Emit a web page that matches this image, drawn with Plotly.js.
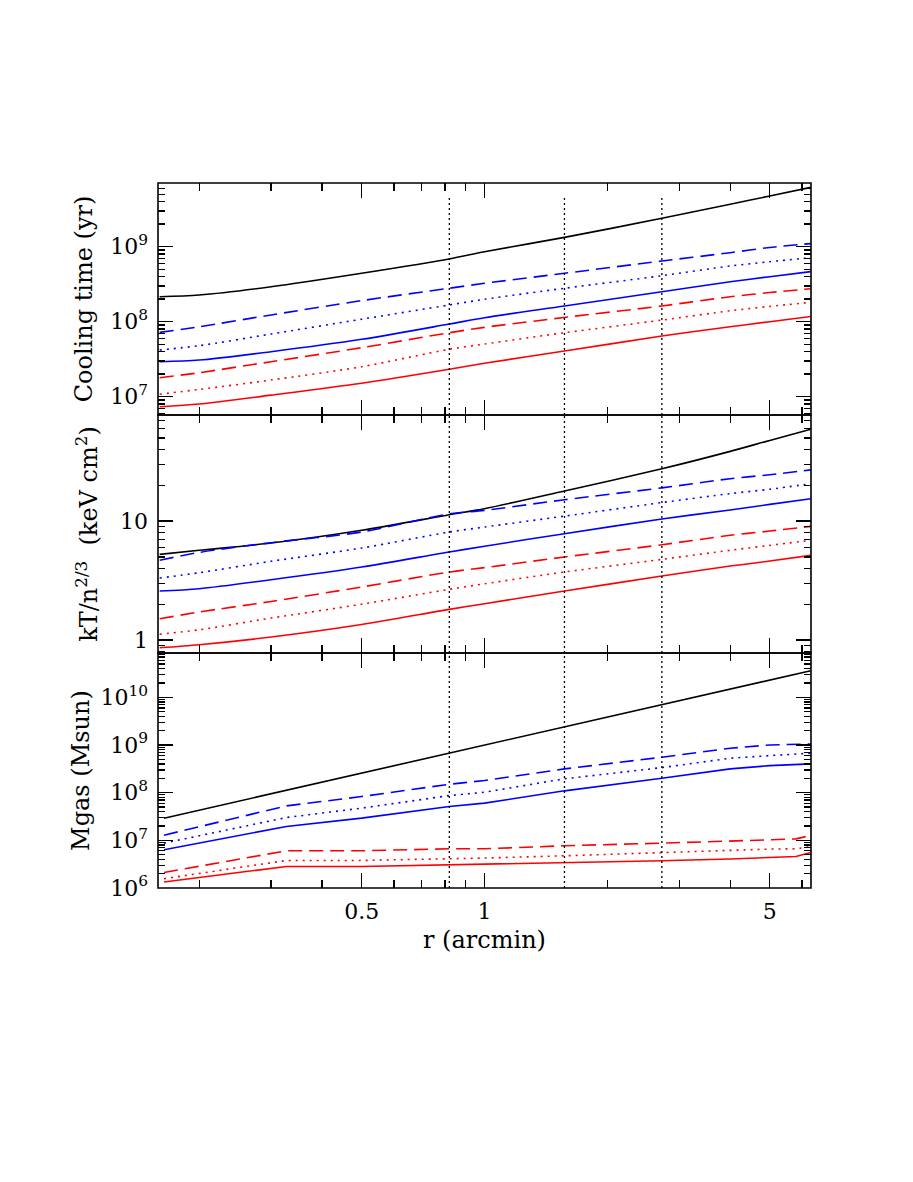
<!DOCTYPE html>
<html><head><meta charset="utf-8">
<script src="https://cdn.plot.ly/plotly-3.0.1.min.js"></script>
<style>html,body{margin:0;padding:0;background:#fff}#chart{width:913px;height:1182px}</style>
</head><body><div id="chart"></div>
<script>
// radius grid (arcmin)
const radius = [0.16, 0.2, 0.3, 0.5, 0.82, 1.0, 1.57, 2.72, 4.0, 5.0, 6.3];
const radiusMgas = [0.164, 0.327, 0.5, 0.82, 1.0, 1.57, 2.72, 4.0, 5.0, 5.8, 6.3];
const apertures = [0.82, 1.57, 2.72];

// Cooling time (yr)
const coolBlack     = [2.15e8, 2.27e8, 2.92e8, 4.42e8, 6.85e8, 8.57e8, 1.33e9, 2.39e9, 3.68e9, 4.73e9, 6.17e9];
const coolBlueDash  = [7.21e7, 8.57e7, 1.23e8, 1.91e8, 2.79e8, 3.25e8, 4.42e8, 6.44e8, 8.32e8, 9.77e8, 1.10e9];
const coolBlueDot   = [4.19e7, 4.79e7, 6.85e7, 1.08e8, 1.67e8, 1.99e8, 2.79e8, 4.10e8, 5.53e8, 6.31e8, 7.13e8];
const coolBlueSolid = [2.93e7, 3.08e7, 3.98e7, 5.82e7, 9.31e7, 1.13e8, 1.62e8, 2.51e8, 3.41e8, 3.98e8, 4.65e8];
const coolRedDash   = [1.79e7, 2.09e7, 2.93e7, 4.50e7, 7.13e7, 8.41e7, 1.14e8, 1.62e8, 2.15e8, 2.45e8, 2.75e8];
const coolRedDot    = [1.08e7, 1.25e7, 1.67e7, 2.51e7, 4.29e7, 5.04e7, 7.13e7, 1.05e8, 1.40e8, 1.60e8, 1.81e8];
const coolRedSolid  = [7.36e6, 8.0e6, 1.05e7, 1.51e7, 2.32e7, 2.79e7, 4.06e7, 6.44e7, 8.57e7, 1.0e8, 1.17e8];

// Entropy kT/n^(2/3) (keV cm^2)
const entBlack     = [5.25, 5.68, 6.53, 8.36, 11.3, 12.7, 17.9, 27.5, 38.5, 47.6, 59.0];
const entBlueDash  = [4.68, 5.45, 6.58, 8.09, 11.5, 12.3, 15.1, 19.0, 22.7, 24.5, 26.9];
const entBlueDot   = [3.32, 3.68, 4.59, 5.93, 8.09, 8.91, 11.0, 14.3, 17.0, 18.5, 20.6];
const entBlueSolid = [2.58, 2.70, 3.21, 4.11, 5.50, 6.14, 7.83, 10.4, 12.4, 13.8, 15.4];
const entRedDash   = [1.51, 1.72, 2.11, 2.79, 3.73, 4.06, 4.99, 6.32, 7.59, 8.24, 9.02];
const entRedDot    = [1.12, 1.22, 1.53, 2.00, 2.67, 2.97, 3.73, 4.76, 5.68, 6.25, 6.89];
const entRedSolid  = [0.861, 0.914, 1.06, 1.35, 1.81, 2.02, 2.58, 3.45, 4.19, 4.61, 5.15];

// Mgas (Msun)
const mgasBlack     = [2.91e7, 1.12e8, 2.51e8, 6.6e8, 9.77e8, 2.40e9, 7.03e9, 1.48e10, 2.31e10, 3.09e10, 3.62e10];
const mgasBlueDash  = [1.28e7, 5.27e7, 8.26e7, 1.50e8, 1.79e8, 3.15e8, 5.53e8, 8.55e8, 1.0e9, 1.05e9, 1.05e9];
const mgasBlueDot   = [8.71e6, 3.0e7, 4.72e7, 8.67e7, 1.02e8, 1.95e8, 3.35e8, 5.27e8, 5.98e8, 6.46e8, 6.71e8];
const mgasBlueSolid = [6.31e6, 1.95e7, 2.91e7, 5.11e7, 6.01e7, 1.09e8, 2.01e8, 3.15e8, 3.69e8, 3.89e8, 4.01e8];
const mgasRedDash   = [2.11e6, 6.01e6, 6.01e6, 6.62e6, 6.62e6, 7.66e6, 8.71e6, 9.42e6, 1.02e7, 1.07e7, 1.26e7];
const mgasRedDot    = [1.56e6, 3.77e6, 3.77e6, 4.08e6, 4.23e6, 4.72e6, 5.55e6, 6.01e6, 6.53e6, 6.62e6, 7.40e6];
const mgasRedSolid  = [1.33e6, 2.82e6, 2.82e6, 3.06e6, 3.06e6, 3.32e6, 3.71e6, 4.03e6, 4.36e6, 4.57e6, 5.55e6];

const xTickVals = [0.5, 1, 5];
const xTickText = ['0.5', '1', '5'];

const styles = [
  {color: '#000000', dash: 'solid'},
  {color: '#0000ff', dash: '14px,7px'},
  {color: '#0000ff', dash: '2px,5px'},
  {color: '#0000ff', dash: 'solid'},
  {color: '#ff0000', dash: '14px,7px'},
  {color: '#ff0000', dash: '2px,5px'},
  {color: '#ff0000', dash: 'solid'}
];

const panels = [
  {x: radius, ax: 'x', ay: 'y', shape: 'spline',
   series: [coolBlack, coolBlueDash, coolBlueDot, coolBlueSolid, coolRedDash, coolRedDot, coolRedSolid]},
  {x: radius, ax: 'x2', ay: 'y2', shape: 'spline',
   series: [entBlack, entBlueDash, entBlueDot, entBlueSolid, entRedDash, entRedDot, entRedSolid]},
  {x: radiusMgas, ax: 'x3', ay: 'y3', shape: 'linear',
   series: [mgasBlack, mgasBlueDash, mgasBlueDot, mgasBlueSolid, mgasRedDash, mgasRedDot, mgasRedSolid]}
];

const traces = [];
panels.forEach(p => {
  p.series.forEach((s, i) => {
    traces.push({
      x: p.x, y: s, xaxis: p.ax, yaxis: p.ay, type: 'scatter', mode: 'lines',
      line: {color: styles[i].color, dash: styles[i].dash, width: 1.6, shape: p.shape, smoothing: 0.8},
      showlegend: false, hoverinfo: 'skip'
    });
  });
});

function minorDecades(lo, hi) {
  const v = [];
  for (let e = lo; e <= hi; e++) for (let m = 2; m <= 9; m++) v.push(m * Math.pow(10, e));
  return v;
}

const FONT = 'DejaVu Serif, Liberation Serif, serif';
const xMinor = [0.2, 0.3, 0.4, 0.6, 0.7, 0.8, 0.9, 2, 3, 4, 6];

function xAxis(anchor, showLabels, title) {
  const a = {
    type: 'log', range: [-0.8, 0.8], anchor: anchor,
    showline: false, mirror: 'allticks',
    ticks: 'inside', ticklen: 15, tickwidth: 1.3, tickcolor: '#000',
    tickmode: 'array', tickvals: xTickVals, ticktext: xTickText,
    showticklabels: showLabels, ticklabelstandoff: 8,
    minor: {tickmode: 'array', tickvals: xMinor, ticks: 'inside', ticklen: 8, tickwidth: 1.3, tickcolor: '#000', showgrid: false},
    showgrid: false, zeroline: false,
    tickfont: {family: FONT, size: 22, color: '#000'}
  };
  if (title) a.title = {text: title, font: {family: FONT, size: 24, color: '#000'}, standoff: 8};
  return a;
}

function yAxis(anchor, domain, range, tv, tt, minor, title, standoff) {
  return {
    type: 'log', range: range, domain: domain, anchor: anchor,
    showline: false, mirror: 'allticks',
    ticks: 'inside', ticklen: 15, tickwidth: 1.3, tickcolor: '#000',
    tickmode: 'array', tickvals: tv, ticktext: tt, ticklabelstandoff: 9,
    minor: {tickmode: 'array', tickvals: minor, ticks: 'inside', ticklen: 7, tickwidth: 1.3, tickcolor: '#000', showgrid: false},
    showgrid: false, zeroline: false,
    tickfont: {family: FONT, size: 22, color: '#000'},
    title: {text: title, font: {family: FONT, size: 24, color: '#000'}, standoff: standoff}
  };
}

const shapes = [];
[['x', 'y', 0.94], ['x2', 'y2', 1], ['x3', 'y3', 1]].forEach(([xa, ya, top]) => {
  apertures.forEach(r => {
    shapes.push({type: 'line', xref: xa, yref: ya + ' domain', x0: r, x1: r, y0: 0, y1: top,
      line: {color: '#000', width: 1.3, dash: '2px,3px'}});
  });
  shapes.push({type: 'rect', xref: xa + ' domain', yref: ya + ' domain', x0: 0, x1: 1, y0: 0, y1: 1,
    line: {color: '#000', width: 1.6}, fillcolor: 'rgba(0,0,0,0)'});
});

const layout = {
  width: 913, height: 1182,
  margin: {l: 158, r: 102, t: 183, b: 294},
  paper_bgcolor: '#fff', plot_bgcolor: '#fff',
  showlegend: false,
  xaxis: xAxis('y', false),
  xaxis2: xAxis('y2', false),
  xaxis3: xAxis('y3', true, 'r (arcmin)'),
  yaxis: yAxis('x', [0.6709, 1], [6.756, 9.849], [1e7, 1e8, 1e9],
    ['10<sup>7</sup>', '10<sup>8</sup>', '10<sup>9</sup>'], minorDecades(6, 9), 'Cooling time (yr)', 10),
  yaxis2: yAxis('x2', [0.3333, 0.6709], [-0.109, 1.891], [1, 10], ['1', '10'],
    [0.8, 0.9].concat(minorDecades(0, 1)), 'kT/n<sup>2/3</sup>  (keV cm<sup>2</sup>)', 15),
  yaxis3: yAxis('x3', [0, 0.3333], [5.998, 10.93], [1e6, 1e7, 1e8, 1e9, 1e10],
    ['10<sup>6</sup>', '10<sup>7</sup>', '10<sup>8</sup>', '10<sup>9</sup>', '10<sup>10</sup>'],
    minorDecades(6, 10), 'Mgas (Msun)', 3),
  shapes: shapes
};

Plotly.newPlot('chart', traces, layout, {displayModeBar: false, staticPlot: true});
</script>
</body></html>
